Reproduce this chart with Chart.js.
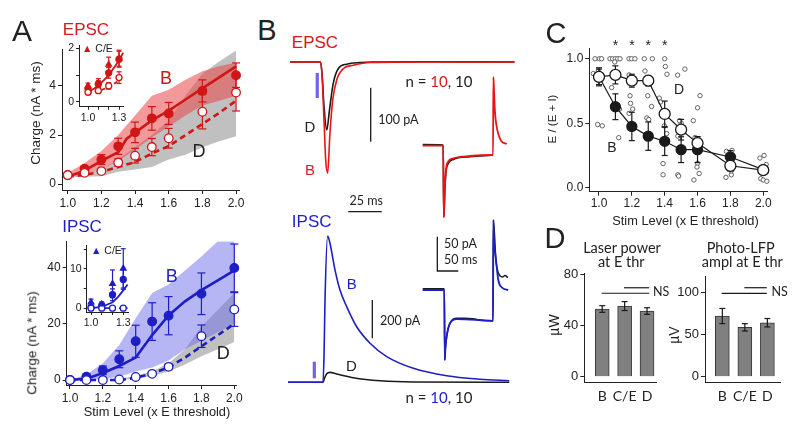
<!DOCTYPE html>
<html>
<head>
<meta charset="utf-8">
<script src="https://cdn.jsdelivr.net/npm/chart.js@4.4.1/dist/chart.umd.min.js"></script>
<style>
  body { margin: 0; background: #fff; }
  #fig { position: relative; width: 800px; height: 430px; overflow: hidden; font-family: 'Liberation Sans', Arial, sans-serif; color: #222; }
  #fig canvas { position: absolute; }
  .t { position: absolute; white-space: nowrap; line-height: 1; }
</style>
</head>
<body>
<div id="fig"></div>
<script>
// ---------- data ----------
const stimLevels = [1.0, 1.1, 1.2, 1.3, 1.4, 1.5, 1.6, 1.8, 2.0];
const stimTicks = [1.0, 1.2, 1.4, 1.6, 1.8, 2.0];
const shadeX = [1.0, 1.1, 1.2, 1.3, 1.4, 1.5, 1.6, 1.7, 1.8, 1.9, 2.0];

// A, EPSC charge (nA * ms)
const epscB = [0.36, 0.63, 1.0, 1.54, 2.11, 2.68, 2.88, 3.8, 4.44];
const epscBErr = [0.05, 0.1, 0.2, 0.33, 0.42, 0.48, 0.45, 0.45, 0.5];
const epscD = [0.37, 0.46, 0.53, 0.88, 1.16, 1.51, 1.87, 2.95, 3.73];
const epscDErr = [0.05, 0.05, 0.08, 0.15, 0.3, 0.35, 0.4, 0.7, 0.75];
const epscFitBX = [1.0, 1.1, 1.2, 1.3, 1.35, 1.4, 1.5, 1.6, 1.7, 1.8, 1.9, 2.0];
const epscFitB = [0.3, 0.55, 0.95, 1.3, 1.85, 2.1, 2.6, 3.0, 3.45, 3.9, 4.35, 4.8];
const epscFitD = [0.3, 0.38, 0.5, 0.7, 0.9, 1.25, 1.55, 2.0, 2.45, 2.9, 3.4];
const epscShadeBLo = [0.28, 0.42, 0.6, 0.95, 1.4, 1.9, 2.35, 2.8, 3.2, 3.4, 3.6];
const epscShadeBHi = [0.45, 0.85, 1.35, 2.0, 2.8, 3.6, 3.85, 4.25, 4.6, 4.8, 4.95];
const epscShadeDLo = [0.28, 0.3, 0.32, 0.5, 0.6, 0.7, 1.0, 1.2, 1.5, 1.75, 1.95];
const epscShadeDHi = [0.35, 0.45, 0.6, 1.0, 1.5, 2.0, 2.6, 3.6, 4.5, 5.0, 5.45];
const epscYTicks = [0, 2, 4];

// A, EPSC inset (1.0 - 1.3)
const insetX = [1.0, 1.1, 1.2, 1.3];
const insetXLabels = ['1.0', '', '', '1.3'];
const epscInB = [0.49, 0.67, 1.09, 1.6];
const epscInBErr = [0.1, 0.12, 0.2, 0.3];
const epscInCE = [0.6, 0.72, 1.4, 1.64];
const epscInCEErr = [0.1, 0.15, 0.28, 0.3];
const epscInD = [0.36, 0.42, 0.6, 0.91];
const epscInDErr = [0.08, 0.1, 0.12, 0.22];
const epscInFitX = [1.0, 1.1, 1.2, 1.3, 1.34];
const epscInFitB = [0.35, 0.6, 1.0, 1.55, 1.85];
const epscInFitD = [0.33, 0.4, 0.55, 0.8, 0.88];
const epscInYTicks = [0, 1, 2];
const epscInYLabels = ['0', '', '2'];

// A, IPSC charge (nA * ms)
const ipscB = [0, 1.2, 3.5, 7.4, 13.8, 20.8, 22.9, 30.7, 39.9];
const ipscBErr = [0.3, 1, 1.5, 3, 5.7, 6.7, 6.8, 7.4, 8.5];
const ipscD = [0, 0, 0, 0.2, 1.1, 2.2, 4.7, 15.6, 25.1];
const ipscDErr = [0, 0, 0.3, 0.3, 0.3, 0.5, 1, 4, 6];
const ipscFitB = [0, 0.5, 2.5, 5, 8, 16, 23, 28, 32, 35.5, 39];
const ipscFitD = [0, 0, 0, 0, 0.8, 2.3, 4.5, 8, 12, 16, 20];
const ipscShadeBLo = [0, 0, 0.3, 1.2, 3, 4.5, 7, 11, 14, 17, 20];
const ipscShadeBHi = [0, 2, 6, 12.5, 22, 31, 34, 39, 44, 49.4, 49.4];
const ipscShadeDLo = [0, 0, 0, 0, 0.5, 1.5, 3, 5.5, 8.5, 11, 13.5];
const ipscShadeDHi = [0, 0, 0, 0.3, 1.5, 3, 6, 11, 19, 25, 31];
const ipscYTicks = [0, 20, 40];

// A, IPSC inset
const ipscInB = [0.2, 0.7, 3.4, 7.3];
const ipscInBErr = [0.5, 0.6, 1.5, 2.5];
const ipscInCE = [1.5, 1.0, 6.2, 10.1];
const ipscInCEErr = [0.8, 0.6, 3.5, 5];
const ipscInD = [0, 0, 0, 0];
const ipscInFitX = [1.0, 1.1, 1.2, 1.25, 1.3, 1.34];
const ipscInFitB = [0, 0.3, 1.5, 2.8, 4.5, 6];
const ipscInFitD = [0, 0, 0, 0, 0, 0];
const ipscInYTicks = [0, 5, 10, 15];
const ipscInYLabels = ['0', '', '10', ''];

// B, averaged traces (ms, pA)
const epscTimeD = [0, 22.8, 24, 25.4, 27.5, 29.5, 32.4, 36.2, 42.4, 52.4, 65, 100, 168];
const epscTraceD = [0, 0, -22, -80, -126, -90, -39, -12, -4, -1, 0, 0.5, 0];
const epscTimeB = [0, 22.8, 24, 25.5, 26.7, 28.2, 29.9, 32, 35, 40, 47.4, 60, 100, 168];
const epscTraceB = [0, 0, -25, -110, -181, -206, -132, -70, -33, -12, -6, -1, 0, 0];
const epscStepTimeB = [0, 48.8, 50.2, 51.0, 52.5, 55.5, 61, 72.9, 112.6, 164.3, 167.5, 168.3, 169.2, 170.5, 172, 175, 180, 187, 200];
const epscStepB = [0, 0, -104, -95, -65, -35, -23, -18.4, -15, -13.6, -13.6, 100, 90, 70, 50, 32, 17, 7, 2.5];
const epscStepTimeD = [0, 48.8, 50.2, 51.0, 52.5, 55.5, 61, 72.9, 112.6, 164.3];
const epscStepD = [1.5, 1, -104, -95, -68, -38, -26, -20, -16, -14];

const ipscTimeB = [0, 26.2, 27, 27.7, 29.7, 31.4, 35.2, 38.9, 43.9, 51.4, 61.4, 73.9, 93.8, 118.8, 143.7, 165.6];
const ipscTraceB = [0, 0, 150, 430, 764, 726, 586, 482, 395, 290, 204, 134, 73, 34, 16, 8];
const ipscTimeD = [0, 26.2, 27.5, 29, 31.4, 36.5, 48.9, 68.9, 93.8, 165.6];
const ipscTraceD = [0, 0, 25, 45, 52, 43, 24, 8, 1.5, 0];
const ipscStepTimeB = [0, 51.4, 52.6, 54, 57, 65, 81, 136.4, 167.5, 168.3, 169.5, 171.5, 174.5, 180, 188, 203.8];
const ipscStepB = [0, 0, -102, -85, -68, -48.5, -42.3, -43.7, -45, 102, 75, 60, 44, 14.6, 4, 0];
const ipscStepTimeD = [0, 51.4, 52.6, 54, 57, 65, 81, 100, 120, 136.4, 167.5, 168.3, 174.5, 180, 190, 196, 203];
const ipscStepD = [2, 2, -102, -85, -68, -48, -41, -41, -42, -44, -45, 102, 42, 25, 19, 21, 18];

// C, E / (E + I)
const ratioB = [0.86, 0.628, 0.475, 0.4, 0.36, 0.295, 0.295, 0.238, 0.14];
const ratioBErr = [0.07, 0.1, 0.11, 0.11, 0.11, 0.1, 0.1, 0.05, 0.03];
const ratioD = [0.86, 0.875, 0.83, 0.83, 0.572, 0.45, 0.346, 0.17, 0.136];
const ratioDErr = [0.06, 0.07, 0.05, 0.04, 0.1, 0.08, 0.05, 0.04, 0.03];
const cellX = [0.976, 1.002, 1.016, 0.965, 0.996, 0.992, 1.02,
  1.067, 1.083, 1.099, 1.114, 1.128, 1.096, 1.077, 1.12, 1.125,
  1.183, 1.199, 1.219, 1.183, 1.189, 1.192, 1.205, 1.183,
  1.276, 1.325, 1.28, 1.297, 1.291, 1.303, 1.32,
  1.4, 1.404, 1.414, 1.367, 1.375, 1.398, 1.412, 1.39, 1.39,
  1.479, 1.523, 1.5, 1.49, 1.48, 1.51, 1.48, 1.485,
  1.574, 1.615, 1.6, 1.585, 1.578, 1.6, 1.597, 1.61,
  1.776, 1.81, 1.783, 1.806, 1.773, 1.806, 1.82,
  1.98, 2.005, 2.018, 2.008, 1.985, 2.0, 2.022];
const cellY = [1.0, 1.0, 1.0, 0.885, 0.905, 0.49, 0.48,
  1.0, 1.0, 1.0, 1.0, 1.0, 0.975, 0.777, 0.388, 0.61,
  1.0, 1.0, 1.0, 0.875, 0.713, 0.654, 0.61, 0.577,
  1.0, 1.0, 0.905, 0.713, 0.541, 0.529, 0.63,
  1.0, 0.94, 0.88, 0.695, 0.665, 0.48, 0.42, 0.187, 0.1,
  0.873, 0.92, 0.5, 0.52, 0.4, 0.43, 0.1, 0.09,
  0.52, 0.714, 0.62, 0.39, 0.06, 0.19, 0.16, 0.11,
  0.282, 0.29, 0.16, 0.1, 0.08, 0.13, 0.24,
  0.23, 0.25, 0.18, 0.13, 0.07, 0.06, 0.05];
const ratioYTicks = [0, 0.5, 1.0];
const ratioYLabels = ['0.0', '0.5', '1.0'];

// D, bar panels
const groups = ['B', 'C/E', 'D'];
const groupX = [1, 2, 3];
const laserPower = [52.9, 55.2, 51.3];
const laserErr = [2.6, 3.5, 2.6];
const lfpAmpl = [72.3, 58.8, 64.3];
const lfpErr = [9, 4.4, 5];
const laserYTicks = [0, 40, 80];
const lfpYTicks = [0, 50, 100];

// ---------- drawing ----------
const RED = 'rgb(208,22,22)';
const BLUE = 'rgb(30,30,200)';
const BLACK = '#1a1a1a';
const fig = document.getElementById('fig');

Chart.defaults.font.family = "'Liberation Sans', Arial, sans-serif";
Chart.defaults.color = '#222';

const pts = (xs, ys) => xs.map((x, i) => ({x, y: ys[i]}));

function errData(xs, ys, es) {
  const out = [];
  xs.forEach((x, i) => {
    if (!es[i]) return;
    out.push({x, y: ys[i] - es[i]}, {x, y: ys[i] + es[i]}, {x, y: null});
  });
  return out;
}

function errBars(xs, ys, es, color, cap, order) {
  return {type: 'line', data: errData(xs, ys, es), borderColor: color, borderWidth: 1.2, spanGaps: false,
    pointStyle: 'line', pointRadius: cap, pointBorderColor: color, pointBorderWidth: 1.2, order, clip: false};
}

function markers(xs, ys, color, fill, r, order, style) {
  return {type: 'line', data: pts(xs, ys), showLine: false, pointStyle: style || 'circle', pointRadius: r,
    pointBackgroundColor: fill, pointBorderColor: color, pointBorderWidth: 1.3, order, clip: false};
}

function curve(xs, ys, color, w, dash, order) {
  return {type: 'line', data: pts(xs, ys), borderColor: color, borderWidth: w, borderDash: dash || [],
    pointRadius: 0, tension: 0, fill: false, order, clip: false};
}

function trace(xs, ys, color, w) {
  return {type: 'line', data: pts(xs, ys), borderColor: color, borderWidth: w || 1.6, pointRadius: 0,
    cubicInterpolationMode: 'monotone', fill: false};
}

// band between two series; pushes two datasets, upper fills down to lower
function band(list, xs, lo, hi, color, order) {
  const idx = list.length;
  list.push({type: 'line', data: pts(xs, lo), borderWidth: 0, pointRadius: 0, fill: false, order});
  list.push({type: 'line', data: pts(xs, hi), borderWidth: 0, pointRadius: 0, fill: idx, backgroundColor: color, order});
}

function frame(L, T, R, B, yW, xH, padT, padR) {
  const x = Math.round(L - yW), y = Math.round(T - padT);
  const w = Math.round(R + padR) - x, h = Math.round(B + xH) - y;
  return {x, y, w, h, yW: L - x, xH: y + h - B, padT: T - y, padR: x + w - R};
}

function axis(min, max, ticks, size, o = {}) {
  return {
    type: 'linear', min, max, bounds: 'data', offset: false,
    afterBuildTicks: s => { s.ticks = ticks.map(v => ({value: v})); },
    afterFit: s => { if (s.isHorizontal()) s.height = size; else s.width = size; },
    grid: {drawOnChartArea: false, drawTicks: !o.noTicks, tickLength: o.tick || 4, color: '#222', lineWidth: 1, offset: false},
    border: {color: '#222', width: 1},
    ticks: {font: {size: o.font || 12, family: o.family}, color: '#222', padding: o.pad ?? 2,
      autoSkip: false, maxRotation: 0, callback: o.fmt || (v => v)}
  };
}

function mk(f, type, datasets, scales) {
  const c = document.createElement('canvas');
  c.width = f.w; c.height = f.h;
  c.style.left = f.x + 'px'; c.style.top = f.y + 'px';
  fig.appendChild(c);
  return new Chart(c.getContext('2d'), {
    type, data: {datasets},
    options: {
      responsive: false, animation: false, devicePixelRatio: 1,
      layout: {padding: {top: f.padT || 0, right: f.padR || 0, left: 0, bottom: 0}},
      plugins: {legend: {display: false}, tooltip: {enabled: false}},
      scales
    }
  });
}

function plain(min, max) {
  return {type: 'linear', display: false, min, max};
}

function text(str, cx, cy, size, o = {}) {
  const d = document.createElement('div');
  d.className = 't';
  d.innerHTML = str;
  d.style.left = cx + 'px';
  d.style.top = cy + 'px';
  d.style.fontSize = size + 'px';
  if (o.color) d.style.color = o.color;
  if (o.cal) d.style.fontFamily = "Lato, 'Open Sans', sans-serif";
  let tr = o.left ? 'translate(0,-50%)' : 'translate(-50%,-50%)';
  if (o.rot) tr += ' rotate(-90deg)';
  d.style.transform = tr;
  fig.appendChild(d);
}

const fix1 = v => v.toFixed(1);

// ----- A: EPSC -----
{
  const ds = [];
  band(ds, shadeX, epscShadeDLo, epscShadeDHi, 'rgb(192,192,192)', 9);
  band(ds, shadeX, epscShadeBLo, epscShadeBHi, 'rgba(235,70,70,0.55)', 8);
  ds.push(curve(shadeX, epscFitD, RED, 2.6, [6, 4], 5));
  ds.push(curve(epscFitBX, epscFitB, RED, 2.6, null, 5));
  ds.push(errBars(stimLevels, epscB, epscBErr, RED, 4, 3));
  ds.push(errBars(stimLevels, epscD, epscDErr, RED, 4, 3));
  ds.push(markers(stimLevels, epscD, RED, '#fff', 4.3, 1));
  ds.push(markers(stimLevels, epscB, RED, RED, 4.3, 1));
  const f = frame(62, 48, 239.4, 190, 40, 24, 8, 12);
  mk(f, 'line', ds, {
    x: axis(0.966, 2.02, stimTicks, f.xH, {fmt: fix1}),
    y: axis(-0.24, 5.5, epscYTicks, f.yW)
  });
}
{
  const ds = [];
  ds.push(curve(insetX, epscInFitD, RED, 1.8, [4, 3], 5));
  ds.push(curve(epscInFitX, epscInFitB, RED, 1.8, null, 5));
  ds.push(errBars(insetX, epscInCE, epscInCEErr, RED, 2.5, 3));
  ds.push(errBars(insetX, epscInB, epscInBErr, RED, 2.5, 3));
  ds.push(errBars(insetX, epscInD, epscInDErr, RED, 2.5, 3));
  ds.push(markers(insetX, epscInD, RED, '#fff', 3, 1));
  ds.push(markers(insetX, epscInB, RED, RED, 3, 1));
  ds.push(markers(insetX, epscInCE, RED, RED, 3.2, 0, 'triangle'));
  const f = frame(79, 43.3, 123.7, 106.7, 16, 16, 6, 8);
  mk(f, 'line', ds, {
    x: axis(0.913, 1.345, insetX, f.xH, {font: 10.5, tick: 3, fmt: (v, i) => insetXLabels[i]}),
    y: axis(-0.182, 2.124, epscInYTicks, f.yW, {font: 10.5, tick: 3, fmt: (v, i) => epscInYLabels[i]})
  });
}

// ----- A: IPSC -----
{
  const ds = [];
  band(ds, shadeX, ipscShadeDLo, ipscShadeDHi, 'rgb(192,192,192)', 9);
  band(ds, shadeX, ipscShadeBLo, ipscShadeBHi, 'rgba(110,110,235,0.5)', 8);
  ds.push(curve(shadeX, ipscFitD, BLUE, 2.6, [6, 4], 5));
  ds.push(curve(shadeX, ipscFitB, BLUE, 2.6, null, 5));
  ds.push(errBars(stimLevels, ipscB, ipscBErr, BLUE, 4, 3));
  ds.push(errBars(stimLevels, ipscD, ipscDErr, BLUE, 4, 3));
  ds.push(markers(stimLevels, ipscD, BLUE, '#fff', 4.3, 1));
  ds.push(markers(stimLevels, ipscB, BLUE, BLUE, 4.3, 1));
  const f = frame(66.7, 240, 236.1, 385, 40, 24, 8, 12);
  mk(f, 'line', ds, {
    x: axis(0.98, 2.011, stimTicks, f.xH, {fmt: fix1}),
    y: axis(-1.76, 49.4, ipscYTicks, f.yW)
  });
}
{
  const ds = [];
  ds.push(curve(ipscInFitX, ipscInFitD, BLUE, 1.8, [4, 3], 5));
  ds.push(curve(ipscInFitX, ipscInFitB, BLUE, 1.8, null, 5));
  ds.push(errBars(insetX, ipscInCE, ipscInCEErr, BLUE, 2.5, 3));
  ds.push(errBars(insetX, ipscInB, ipscInBErr, BLUE, 2.5, 3));
  ds.push(markers(insetX, ipscInD, BLUE, '#fff', 3, 1));
  ds.push(markers(insetX, ipscInB, BLUE, BLUE, 3, 1));
  ds.push(markers(insetX, ipscInCE, BLUE, BLUE, 3.2, 0, 'triangle'));
  const f = frame(86.7, 243, 128, 312, 16, 16, 6, 8);
  mk(f, 'line', ds, {
    x: axis(0.96, 1.344, insetX, f.xH, {font: 10.5, tick: 3, fmt: (v, i) => insetXLabels[i]}),
    y: axis(-0.98, 15.97, ipscInYTicks, f.yW, {font: 10.5, tick: 3, fmt: (v, i) => ipscInYLabels[i]})
  });
}

// ----- B: traces -----
const STIM = 'rgb(115,100,230)';
mk({x: 285, y: 55, w: 230, h: 160}, 'line', [
  trace(epscTimeB, epscTraceB, 'rgb(235,20,20)'),
  trace(epscTimeD, epscTraceD, BLACK),
  curve([20.4, 20.4], [-20.4, -66.7], STIM, 3.2, null, 0),          // light pulse
  curve([60.4, 60.4], [-47.6, -147.6], BLACK, 1.3, null, 0),         // 100 pA
  curve([43.6, 68.6], [-277.2, -277.2], BLACK, 1.3, null, 0)         // 25 ms
], {x: plain(-3.74, 168.4), y: plain(-283.3, 12.96)});

mk({x: 415, y: 70, w: 100, h: 152}, 'line', [
  trace(epscStepTimeB, epscStepB, 'rgb(235,20,20)', 1.8),
  trace(epscStepTimeD, epscStepD, BLACK, 1.6)
], {x: plain(-18.33, 219.8), y: plain(-111.2, 110.3)});

mk({x: 285, y: 225, w: 230, h: 165}, 'line', [
  trace(ipscTimeB, ipscTraceB, BLUE),
  trace(ipscTimeD, ipscTraceD, BLACK),
  curve([19.7, 19.7], [20.9, 107.6], STIM, 3.2, null, 0),            // light pulse
  curve([63.1, 63.1], [229.8, 429.8], BLACK, 1.3, null, 0)           // 200 pA
], {x: plain(-2.25, 169.9), y: plain(-40.2, 821.4)});

mk({x: 415, y: 214, w: 100, h: 151}, 'line', [
  trace(ipscStepTimeB, ipscStepB, BLUE, 1.8),
  trace(ipscStepTimeD, ipscStepD, BLACK, 1.5),
  curve([34.8, 34.8, 84.8], [77.7, 27.7, 27.7], BLACK, 1.3, null, 0) // 50 pA / 50 ms
], {x: plain(-18.33, 219.8), y: plain(-109.3, 110.8)});

// ----- C: E / (E + I) -----
{
  const ds = [];
  ds.push(markers(stimLevels, ratioD, BLACK, '#fff', 5.5, 0));
  ds.push(markers(stimLevels, ratioB, BLACK, BLACK, 5, 1));
  ds.push(curve(stimLevels, ratioD, BLACK, 1.2, null, 3));
  ds.push(curve(stimLevels, ratioB, BLACK, 1.2, null, 3));
  ds.push(errBars(stimLevels, ratioB, ratioBErr, BLACK, 3, 2));
  ds.push(errBars(stimLevels, ratioD, ratioDErr, BLACK, 3, 2));
  ds.push({type: 'line', data: pts(cellX, cellY), showLine: false, pointRadius: 2.2,
    pointBackgroundColor: '#fff', pointBorderColor: '#555', pointBorderWidth: 0.9, order: 6, clip: false});
  const f = frame(589.3, 47, 767, 191.7, 32, 22, 8, 12);
  mk(f, 'line', ds, {
    x: axis(0.941, 2.023, stimTicks, f.xH, {fmt: fix1, pad: 1}),
    y: axis(-0.031, 1.082, ratioYTicks, f.yW, {fmt: (v, i) => ratioYLabels[i]})
  });
}

// ----- D: bars -----
function barPanel(f, xr, yr, vals, errs, yTicks, nsLong, nsShort) {
  const ds = [
    {type: 'bar', data: pts(groupX, vals), backgroundColor: 'rgb(128,128,128)', borderColor: 'rgb(55,55,55)',
      borderWidth: 1, barThickness: 14, order: 3},
    errBars(groupX, vals, errs, BLACK, 3, 1),
    curve(nsLong[0], nsLong[1], BLACK, 1.2, null, 1),
    curve(nsShort[0], nsShort[1], BLACK, 1.2, null, 1)
  ];
  mk(f, 'bar', ds, {
    x: axis(xr[0], xr[1], groupX, f.xH, {noTicks: true, pad: 5, font: 14, family: "Lato, 'Open Sans', sans-serif",
      fmt: (v, i) => groups[i]}),
    y: axis(yr[0], yr[1], yTicks, f.yW, {font: 13, pad: 2})
  });
}
barPanel(frame(584.3, 273.3, 656, 382.7, 35, 20, 10, 6), [0.2, 3.4], [-4.7, 80.8],
  laserPower, laserErr, laserYTicks, [[0.977, 3.1], [65.2, 65.2]], [[1.97, 3.1], [69.5, 69.5]]);
barPanel(frame(705, 276.7, 780, 382.7, 35, 20, 10, 10), [0.231, 3.56], [-7.1, 119],
  lfpAmpl, lfpErr, lfpYTicks, [[0.973, 2.973], [99.3, 99.3]], [[1.978, 2.973], [106, 106]]);

// ---------- text ----------
text('A', 22, 31, 30);
text('B', 267, 30, 29);
text('C', 556, 33, 29);
text('D', 555, 238, 29);

text('EPSC', 86, 29, 17, {color: 'rgb(215,25,30)'});
text('IPSC', 82, 226, 17, {color: BLUE});
text('Charge (nA * ms)', 35.5, 113, 13.5, {rot: true});
text('Charge (nA * ms)', 31.7, 343, 13.5, {rot: true});
text('Stim Level (x E threshold)', 157, 412, 12.8);
text('B', 166, 77.5, 18, {color: RED});
text('D', 199, 151, 18);
text('B', 171.7, 276, 18, {color: BLUE});
text('D', 223.3, 352.5, 18);
text('<span style="color:' + RED + '">&#9650;</span> C/E', 82, 47.5, 10.5, {left: true});
text('<span style="color:' + BLUE + '">&#9650;</span> C/E', 91, 249.5, 10.5, {left: true});

text('EPSC', 315, 41.7, 17, {color: 'rgb(215,25,30)'});
text('IPSC', 311.7, 221, 17, {color: BLUE});
text('D', 310, 126, 15);
text('B', 310, 169, 15, {color: 'rgb(215,25,30)'});
text('B', 351.7, 282.5, 15, {color: BLUE});
text('D', 351.3, 364.5, 15);
text('n = <span style="color:rgb(215,25,30)">10</span>, 10', 439, 81, 15, {cal: true});
text('n = <span style="color:' + BLUE + '">10</span>, 10', 439, 397, 15, {cal: true});
text('100 pA', 378.3, 119.5, 12.5, {cal: true, left: true});
text('25 ms', 366.3, 200.5, 12.5, {cal: true});
text('200 pA', 380, 321.3, 12.5, {cal: true, left: true});
text('50 pA', 444, 243.8, 12.5, {cal: true, left: true});
text('50 ms', 444, 259.5, 12.5, {cal: true, left: true});

text('E / (E + I)', 553, 119, 11.5, {rot: true});
text('Stim Level (x E threshold)', 685.5, 220.5, 12.8);
[615.4, 631.9, 648.3, 664.7].forEach(x => text('*', x, 45, 14));
text('D', 679, 89, 14);
text('B', 612, 147, 14);

text('Laser power', 622, 247.5, 14.5, {cal: true});
text('at E thr', 621.3, 262, 14.5, {cal: true});
text('Photo-LFP', 740.7, 247.5, 14.5, {cal: true});
text('ampl at E thr', 742.3, 262, 14.5, {cal: true});
text('NS', 653, 291.7, 12.5, {cal: true, left: true});
text('NS', 771.5, 291.7, 12.5, {cal: true, left: true});
text('&micro;W', 553.5, 325, 14, {rot: true});
text('&micro;V', 674, 335, 14, {rot: true});
</script>
</body>
</html>
